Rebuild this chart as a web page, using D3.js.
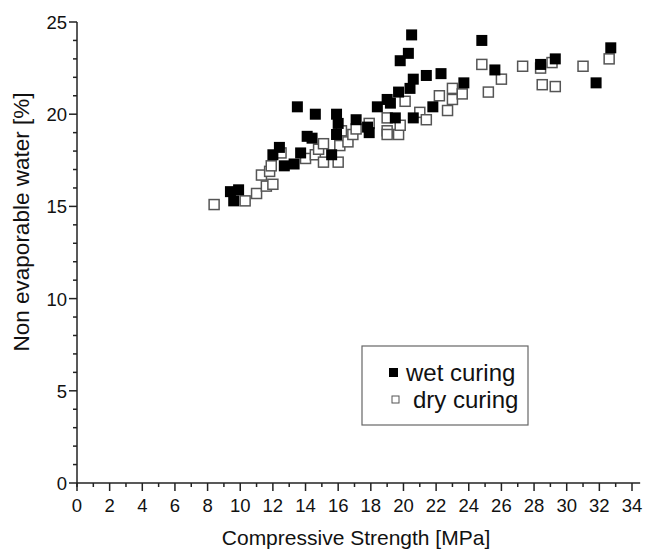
<!DOCTYPE html>
<html>
<head>
<meta charset="utf-8">
<script src="https://cdn.jsdelivr.net/npm/d3@7"></script>
<style>
  body { margin: 0; background: #fff; }
  text { font-family: Arial, "Liberation Sans", sans-serif; fill: #111; }
</style>
</head>
<body>
<div id="vis"></div>
<script>
// Chart size
const W = 649, H = 556;
const margin = { top: 22, right: 9, bottom: 73, left: 77 };

// Wet curing points: [compressive strength MPa, non evaporable water %]
const wetX = [9.4, 9.9, 9.6, 12.0, 12.4, 12.7, 13.3, 13.7, 13.5, 14.6, 14.1, 14.4, 15.6, 15.9, 16.0, 15.9, 17.1, 17.8, 17.9, 18.4,
  19.0, 19.2, 19.7, 19.5, 20.4, 20.6, 20.6, 19.8, 20.3, 20.5, 21.4, 22.3, 21.8, 23.7, 24.8, 25.6, 28.4, 29.3, 31.8, 32.7];
const wetY = [15.8, 15.9, 15.3, 17.8, 18.2, 17.2, 17.3, 17.9, 20.4, 20.0, 18.8, 18.7, 17.8, 20.0, 19.5, 18.9, 19.7, 19.3, 19.0, 20.4,
  20.8, 20.6, 21.2, 19.8, 21.4, 21.9, 19.8, 22.9, 23.3, 24.3, 22.1, 22.2, 20.4, 21.7, 24.0, 22.4, 22.7, 23.0, 21.7, 23.6];

// Dry curing points
const dryX = [8.4, 10.3, 11.0, 11.6, 12.0, 11.3, 11.8, 11.9, 12.5, 14.0, 14.6, 14.8, 15.1, 15.1, 16.0, 16.1, 16.2, 16.6, 16.9, 17.1,
  17.9, 19.0, 19.0, 19.0, 19.7, 19.8, 20.1, 21.0, 21.4, 22.2, 22.7, 23.0, 23.0, 23.6, 24.8, 25.2, 26.0, 27.3, 28.4, 29.1,
  28.5, 29.3, 31.0, 32.6];
const dryY = [15.1, 15.3, 15.7, 16.1, 16.2, 16.7, 16.9, 17.2, 17.9, 17.6, 17.8, 18.1, 18.4, 17.4, 17.4, 18.3, 19.1, 18.5, 18.9, 19.2,
  19.5, 19.8, 19.1, 18.9, 18.9, 19.4, 20.7, 20.1, 19.7, 21.0, 20.2, 21.4, 20.8, 21.1, 22.7, 21.2, 21.9, 22.6, 22.5, 22.8,
  21.6, 21.5, 22.6, 23.0];

const xTicks = d3.range(0, 35, 2);
const yTicks = [0, 5, 10, 15, 20, 25];
const legendLabels = ["wet curing", "dry curing"];

const wet = wetX.map((x, i) => ({ x: x, y: wetY[i] }));
const dry = dryX.map((x, i) => ({ x: x, y: dryY[i] }));

const svg = d3.select("#vis").append("svg")
  .attr("width", W).attr("height", H);

const g = svg.append("g").attr("transform", `translate(${margin.left},${margin.top})`);

const xScale = d3.scaleLinear().domain([0, 34]).range([0, 555]);
const yScale = d3.scaleLinear().domain([0, 25]).range([461, 0]);
const ih = 461;

// points first, axes on top
const ms = 10;
g.selectAll(".dry").data(dry).enter().append("rect")
  .attr("class", "dry")
  .attr("x", d => xScale(d.x) - ms / 2)
  .attr("y", d => yScale(d.y) - ms / 2)
  .attr("width", ms).attr("height", ms)
  .attr("fill", "#fff")
  .attr("stroke", "#555")
  .attr("stroke-width", 1.5);

g.selectAll(".wet").data(wet).enter().append("rect")
  .attr("class", "wet")
  .attr("x", d => xScale(d.x) - (ms + 1) / 2)
  .attr("y", d => yScale(d.y) - (ms + 1) / 2)
  .attr("width", ms + 1).attr("height", ms + 1)
  .attr("fill", "#000");

// x axis
const xAxis = g.append("g").attr("transform", `translate(0,${ih})`);
xAxis.append("line")
  .attr("x1", 0).attr("x2", xScale(34.5))
  .attr("stroke", "#222").attr("stroke-width", 1.5);
xAxis.selectAll(".xminor").data(d3.range(1, 35, 2)).enter().append("line")
  .attr("x1", d => xScale(d)).attr("x2", d => xScale(d))
  .attr("y1", 0).attr("y2", 4)
  .attr("stroke", "#222").attr("stroke-width", 1.5);
xAxis.selectAll(".xmajor").data(xTicks).enter().append("line")
  .attr("x1", d => xScale(d)).attr("x2", d => xScale(d))
  .attr("y1", 0).attr("y2", 8)
  .attr("stroke", "#222").attr("stroke-width", 1.5);
xAxis.selectAll(".xlab").data(xTicks).enter().append("text")
  .attr("x", d => xScale(d)).attr("y", 29)
  .attr("text-anchor", "middle")
  .style("font-size", "18.5px")
  .text(d => d);

// y axis
const yAxis = g.append("g");
yAxis.append("line")
  .attr("y1", yScale(25)).attr("y2", ih + 4)
  .attr("stroke", "#222").attr("stroke-width", 1.5);
yAxis.selectAll(".yminor").data(d3.range(0, 26).filter(d => d % 5 != 0)).enter().append("line")
  .attr("y1", d => yScale(d)).attr("y2", d => yScale(d))
  .attr("x1", 0).attr("x2", -4)
  .attr("stroke", "#222").attr("stroke-width", 1.5);
yAxis.selectAll(".ymajor").data(yTicks).enter().append("line")
  .attr("y1", d => yScale(d)).attr("y2", d => yScale(d))
  .attr("x1", 0).attr("x2", -8)
  .attr("stroke", "#222").attr("stroke-width", 1.5);
yAxis.selectAll(".ylab").data(yTicks).enter().append("text")
  .attr("x", -10).attr("y", d => yScale(d) + 7)
  .attr("text-anchor", "end")
  .style("font-size", "18.5px")
  .text(d => d);

// axis titles
svg.append("text")
  .attr("x", margin.left + 279).attr("y", 545)
  .attr("text-anchor", "middle")
  .style("font-size", "21px")
  .text("Compressive Strength [MPa]");

svg.append("text")
  .attr("transform", "translate(29,222) rotate(-90)")
  .attr("text-anchor", "middle")
  .style("font-size", "22.5px")
  .text("Non evaporable water [%]");

// legend
const leg = svg.append("g").attr("transform", "translate(362,346)");
leg.append("rect")
  .attr("width", 166).attr("height", 79)
  .attr("fill", "#fff").attr("stroke", "#666").attr("stroke-width", 1.2);
leg.append("rect")
  .attr("x", 27).attr("y", 22).attr("width", 9).attr("height", 9)
  .attr("fill", "#000");
leg.append("rect")
  .attr("x", 30).attr("y", 50).attr("width", 7).attr("height", 7)
  .attr("fill", "#fff").attr("stroke", "#555").attr("stroke-width", 1);
leg.append("text")
  .attr("x", 44).attr("y", 35)
  .style("font-size", "24px")
  .text(legendLabels[0]);
leg.append("text")
  .attr("x", 51).attr("y", 62)
  .style("font-size", "24px")
  .text(legendLabels[1]);
</script>
</body>
</html>
